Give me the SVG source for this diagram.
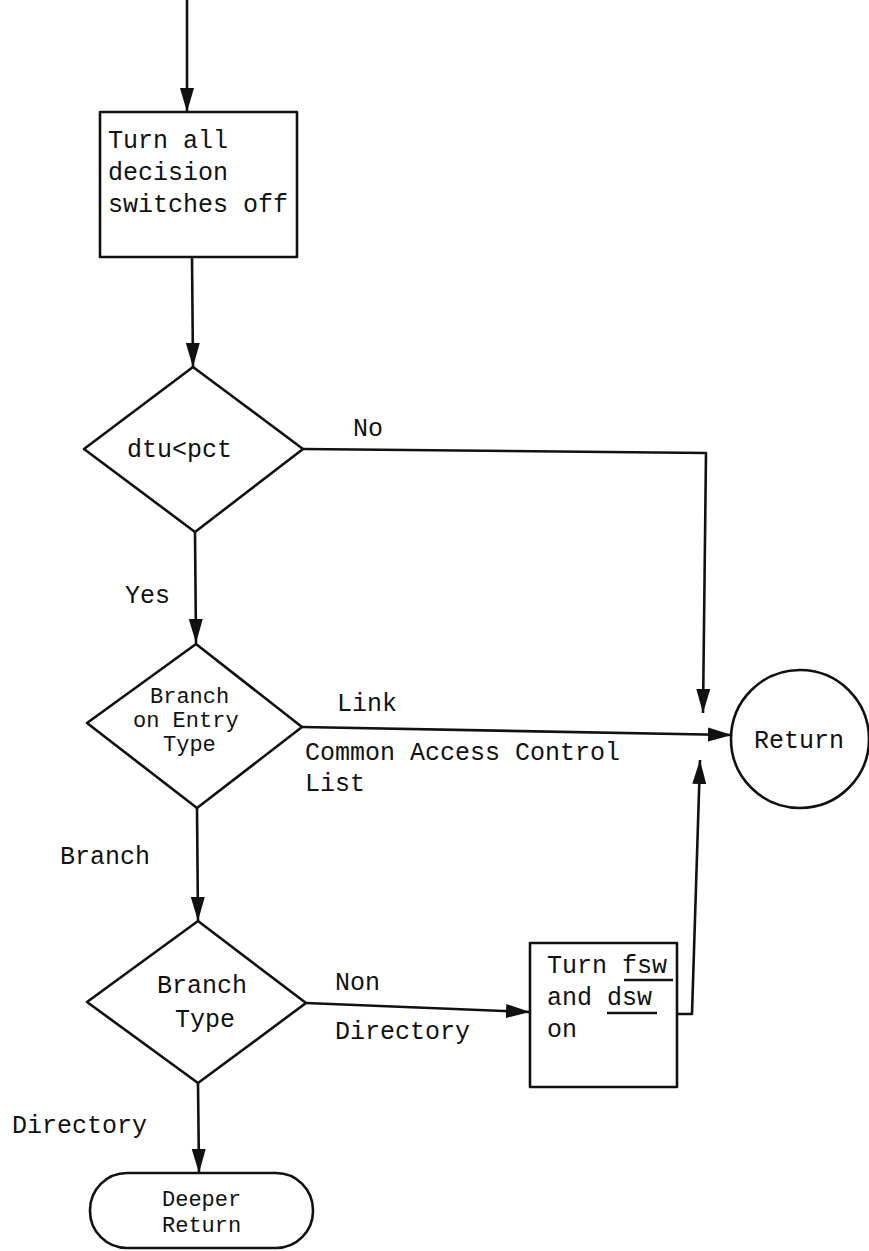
<svg xmlns="http://www.w3.org/2000/svg" width="869" height="1251" viewBox="0 0 869 1251">
<defs>
<style>
.s{fill:none;stroke:#111;stroke-width:2.6;stroke-linejoin:round}
.n{fill:#fff;stroke:#111;stroke-width:2.6;stroke-linejoin:round}
text{font-family:"Liberation Mono","Courier New",monospace;font-size:25px;fill:#111}
.t{font-size:22px}
</style>
<marker id="a" markerUnits="userSpaceOnUse" markerWidth="26" markerHeight="16" refX="24" refY="8" viewBox="0 0 26 16" orient="auto">
<path d="M0,1 L24,8 L0,15 Z" fill="#111"/>
</marker>
</defs>
<g id="connectors">
<path class="s" d="M187,0 V112" marker-end="url(#a)"/>
<path class="s" d="M192,257 L193,367" marker-end="url(#a)"/>
<path class="s" d="M303,449 L706,453 L703,713" marker-end="url(#a)"/>
<path class="s" d="M195,532 L196,643" marker-end="url(#a)"/>
<path class="s" d="M302,727 L732,735" marker-end="url(#a)"/>
<path class="s" d="M197,808 L198,921" marker-end="url(#a)"/>
<path class="s" d="M306,1003 L530,1012" marker-end="url(#a)"/>
<path class="s" d="M677,1014 H692 L700,760" marker-end="url(#a)"/>
<path class="s" d="M198,1083 L199,1173" marker-end="url(#a)"/>
</g>
<g id="labels">
<text x="353" y="436">No</text>
<text x="125" y="603">Yes</text>
<text x="337" y="711">Link</text>
<text x="305" y="760">Common Access Control</text>
<text x="305" y="791">List</text>
<text x="60" y="864">Branch</text>
<text x="335" y="990">Non</text>
<text x="335" y="1039">Directory</text>
<text x="12" y="1133">Directory</text>
</g>
<g id="init">
<rect class="n" x="100" y="112" width="197" height="145"/>
<text x="108" y="148">Turn all</text>
<text x="108" y="180">decision</text>
<text x="108" y="212">switches off</text>
</g>
<g id="dtu">
<polygon class="n" points="193,367 303,449 195,532 84,449"/>
<text x="127" y="457">dtu&lt;pct</text>
</g>
<g id="entrytype">
<polygon class="n" points="196,644 302,727 197,808 87,723"/>
<text class="t" x="150" y="703">Branch</text>
<text class="t" x="133" y="727">on Entry</text>
<text class="t" x="163" y="751">Type</text>
</g>
<g id="branchtype">
<polygon class="n" points="198,921 306,1003 198,1083 87,1002"/>
<text x="157" y="993">Branch</text>
<text x="175" y="1027">Type</text>
</g>
<g id="turnfsw">
<rect class="n" x="530" y="943" width="147" height="144"/>
<text x="547" y="973">Turn fsw</text>
<text x="547" y="1005">and dsw</text>
<text x="547" y="1037">on</text>
<path class="s" d="M624,980 H673 M607,1013 H657"/>
</g>
<g id="return">
<circle class="n" cx="800" cy="739" r="69"/>
<text x="754" y="748">Return</text>
</g>
<g id="deeper">
<rect class="n" x="90" y="1173" width="223" height="75" rx="37" ry="37"/>
<text class="t" x="162" y="1206">Deeper</text>
<text class="t" x="162" y="1232">Return</text>
</g>
</svg>
